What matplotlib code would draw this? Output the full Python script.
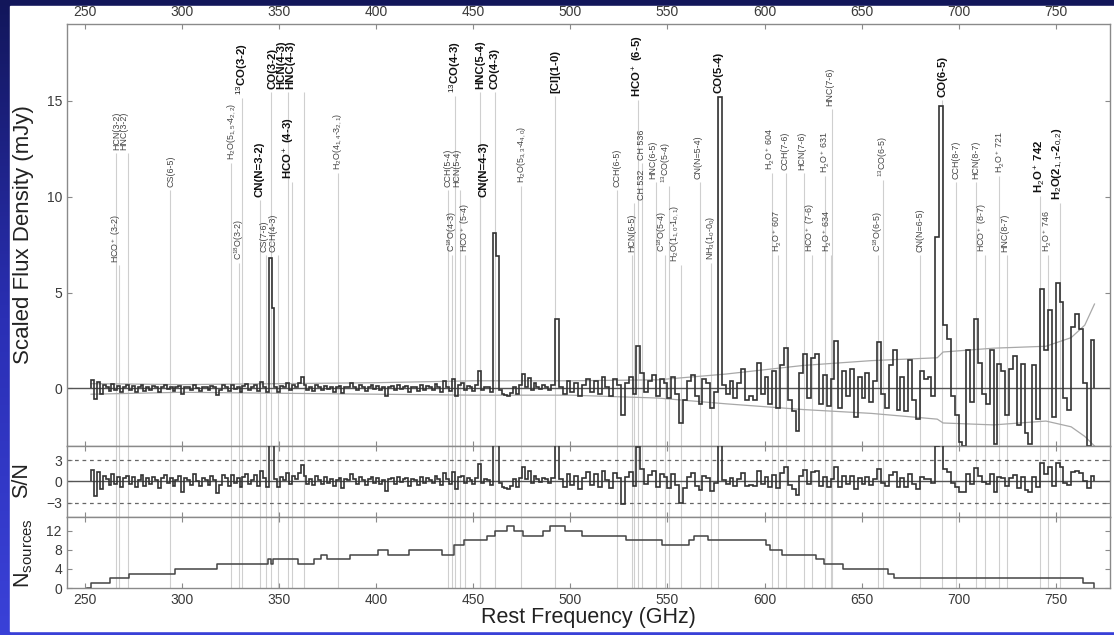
import numpy as np
import matplotlib
matplotlib.use("Agg")
import matplotlib.pyplot as plt
from matplotlib.colors import LinearSegmentedColormap
from matplotlib.patches import Rectangle

plt.rcParams['font.family'] = ['Liberation Sans', 'DejaVu Sans']
plt.rcParams['mathtext.fontset'] = 'custom'
plt.rcParams['mathtext.rm'] = 'Liberation Sans'
plt.rcParams['mathtext.it'] = 'Liberation Sans:italic'
plt.rcParams['mathtext.bf'] = 'Liberation Sans:bold'

# -----------------------------
# Stacked spectrum (mJy), two channel grids
# -----------------------------
# 253-490 GHz in 1.5 GHz channels
flux_lo = [
    0.45, -0.55, 0.35, -0.3, 0.2, 0.1, -0.15, 0.25, -0.1, 0.15,
    -0.2, 0.1, 0.2, -0.1, 0.15, -0.2, 0.05, 0.2, -0.15, 0.1,
    -0.1, 0.15, 0.05, -0.2, 0.1, 0.2, -0.05, 0.1, -0.15, 0.05,
    0.15, -0.3, 0.1, 0.05, -0.1, 0.2, 0.0, -0.15, 0.1, 0.05,
    -0.1, 0.15, 0.05, -0.35, -0.1, 0.2, 0.1, -0.15, 0.2, -0.05,
    0.1, -0.2, 0.15, 0.25, -0.1, 0.05, 0.2, -0.15, 0.35, 0.1,
    -0.2, 6.8, 4.2, 0.1, -0.2, 0.15, 0.05, 0.3, -0.1, 0.2,
    0.1, 0.3, 0.6, 0.2, -0.1, 0.1, -0.15, 0.2, 0.05, -0.1,
    0.15, -0.05, 0.1, -0.2, 0.05, 0.15, -0.25, 0.1, 0.05, 0.3,
    0.1, -0.1, 0.2, 0.05, -0.15, 0.1, 0.2, -0.05, 0.15, -0.1,
    0.05, -0.4, 0.1, 0.15, -0.1, 0.2, -0.05, 0.1, 0.15, -0.2,
    0.1, 0.05, -0.15, 0.2, -0.1, 0.15, 0.05, -0.1, 0.25, 0.1,
    -0.2, 0.4, 0.1, -0.15, 0.5, -0.4, 0.2, 0.3, -0.1, 0.15,
    0.05, -0.15, 0.2, 0.9, -0.1, 0.1, 0.05, -0.2, 8.1, 6.9,
    -0.1, -0.3, -0.35, -0.4, -0.25, 0.1, -0.3, 0.2, 0.75, 0.1,
    0.55, -0.1, 0.3, 0.1, -0.05, 0.2, 0.1, -0.1,
]
# 490-770 GHz in 2 GHz channels
flux_hi = [
    0.2, 3.6, 0.1, -0.3, 0.4, -0.2, 0.3, -0.4, 0.2, 0.5,
    -0.2, 0.4, -0.3, 0.6, 0.1, -0.4, 0.5, 0.2, -1.4, 0.3,
    0.6, -0.3, 2.2, 0.8, -0.2, 0.4, 0.7, -0.4, 0.5, 0.3,
    -0.5, 0.6, -0.3, -1.8, -0.6, 0.4, 0.7, -0.4, -0.8, 0.5,
    0.3, -1.0, -0.2, 15.2, 0.2, -0.3, 0.4, -0.5, 0.3, 1.0,
    -0.6, -0.4, -0.6, 1.35, -0.3, 0.6, -0.8, 0.9, -1.0, 1.2,
    2.1, -0.6, -1.2, -2.2, 0.8, 1.8, -0.5, 1.6, 1.8, -0.8,
    0.7, -0.9, 0.5, 2.5, -1.0, 0.9, -0.4, 1.0, -1.5, 0.6,
    -0.5, 0.8, -0.7, 0.4, 2.4, -0.3, -1.0, 1.2, 2.0, -1.1,
    0.6, -1.2, 1.5, -0.6, -1.6, 0.9, 0.5, 0.6, -0.4, 7.9,
    14.7, 3.3, 2.6, -0.4, -1.4, -2.8, -3.0, 2.0, -0.7, 3.6,
    1.35, -0.3, -0.8, 2.0, -2.9, 1.3, 0.9, -1.4, 1.0, 1.7,
    -1.9, 1.3, -2.3, -2.9, 1.2, -1.6, 5.2, 2.0, 4.1, -1.5,
    5.5, 4.5, -0.5, -1.1, 3.2, 3.9, 3.1, 0.3, -3.0, 2.55,
]

# 1-sigma noise envelope
noise_freq = [253, 300, 350, 400, 450, 500, 545, 580, 620, 655, 689, 692, 718, 745, 758, 765, 770]
noise_hi = [0.25, 0.2, 0.25, 0.3, 0.4, 0.4, 0.45, 0.75, 1.2, 1.45, 1.6, 1.9, 2.1, 2.2, 2.65, 3.3, 4.4]
noise_lo = [-0.3, -0.2, -0.25, -0.3, -0.35, -0.35, -0.5, -0.8, -1.1, -1.3, -1.6, -1.8, -1.9, -1.7, -2.0, -2.5, -3.0]

# number of sources contributing at each frequency
nsrc_freq = [251, 253, 263, 272.3, 296, 318, 344, 345.5, 347, 359.7, 368, 371.5, 374.6,
             386.4, 401, 406, 416.7, 434, 439.8, 445, 457, 461, 467.4, 471, 475.6,
             485.8, 489.5, 497, 506, 528.4, 547, 561, 563.7, 571, 600.7, 602.6, 609,
             626.7, 630.4, 640.6, 663.8, 666.6, 763.9, 769.5]
nsrc_val = [0, 1, 2, 3, 4, 5, 6, 5, 6, 5, 6, 7, 6,
            7, 8, 7, 8, 7, 9, 10, 11, 12, 13, 12, 11,
            12, 13, 12, 11, 10, 9, 10, 11, 10, 9, 8, 7,
            6, 5, 4, 3, 2, 1, 0]

# -----------------------------
# Line identifications
# -----------------------------
line_names = [
    "HCN(3-2)", "HNC(3-2)", "HCO$^+$ (3-2)", "CS(6-5)", "H$_2$O(5$_{1,5}$-4$_{2,2}$)",
    "C$^{18}$O(3-2)", "$^{13}$CO(3-2)", "CN(N=3-2)", "CS(7-6)", "CCH(4-3)",
    "CO(3-2)", "HCN(4-3)", "HNC(4-3)", "HCO$^+$ (4-3)", "H$_2$O(4$_{1,4}$-3$_{2,1}$)",
    "CCH(5-4)", "HCN(5-4)", "C$^{18}$O(4-3)", "HCO$^+$ (5-4)", "$^{13}$CO(4-3)",
    "HNC(5-4)", "CO(4-3)", "CN(N=4-3)", "H$_2$O(5$_{3,3}$-4$_{4,0}$)", "[CI](1-0)",
    "CCH(6-5)", "HCN(6-5)", "CH 532", "CH 536", "HCO$^+$ (6-5)",
    "HNC(6-5)", "$^{13}$CO(5-4)", "C$^{18}$O(5-4)", "H$_2$O(1$_{1,0}$-1$_{0,1}$)", "CN(N=5-4)",
    "NH$_3$(1$_0$-0$_0$)", "CO(5-4)", "H$_2$O$^+$ 604", "CCH(7-6)", "H$_2$O$^+$ 607",
    "HCN(7-6)", "HCO$^+$ (7-6)", "H$_2$O$^+$ 631", "H$_2$O$^+$ 634", "HNC(7-6)",
    "C$^{18}$O(6-5)", "$^{13}$CO(6-5)", "CN(N=6-5)", "CO(6-5)", "CCH(8-7)",
    "HCN(8-7)", "HCO$^+$ (8-7)", "H$_2$O$^+$ 721", "HNC(8-7)", "H$_2$O$^+$ 742",
    "H$_2$O$^+$ 746", "H$_2$O(2$_{1,1}$-2$_{0,2}$)",
]
line_freqs = [
    265.886, 271.981, 267.558, 293.912, 325.153,
    329.331, 330.588, 340.2, 342.883, 349.4,
    345.796, 354.505, 362.630, 356.734, 380.197,
    436.7, 443.116, 439.089, 445.903, 440.765,
    453.270, 461.041, 453.6, 474.689, 492.161,
    524.0, 531.716, 532.7, 536.8, 535.062,
    543.897, 550.926, 548.831, 556.936, 566.9,
    572.498, 576.268, 604.0, 611.3, 607.0,
    620.304, 624.208, 631.0, 634.0, 634.511,
    658.553, 661.067, 680.0, 691.473, 698.8,
    708.877, 713.341, 721.0, 724.8, 742.0,
    746.0, 752.033,
]
bright_lines = {"$^{13}$CO(3-2)", "CN(N=3-2)", "CO(3-2)", "HCN(4-3)", "HNC(4-3)",
                "HCO$^+$ (4-3)", "$^{13}$CO(4-3)", "HNC(5-4)", "CO(4-3)", "CN(N=4-3)",
                "[CI](1-0)", "HCO$^+$ (6-5)", "CO(5-4)", "CO(6-5)", "H$_2$O$^+$ 742",
                "H$_2$O(2$_{1,1}$-2$_{0,2}$)"}

# where each label sits: (x in GHz, y of label foot in mJy)
label_spots = [
    (266.3, 12.45), (269.9, 12.45), (265.8, 6.56), (294.0, 10.5), (325.6, 11.9),
    (329.3, 6.7), (331.0, 15.3), (340.0, 10.0), (342.3, 7.1), (346.6, 7.1),
    (346.4, 15.6), (351.0, 15.6), (355.4, 15.6), (355.0, 10.9), (380.2, 11.4),
    (436.7, 10.5), (441.5, 10.5), (438.9, 7.1), (445.7, 7.1), (440.6, 15.4),
    (453.5, 15.6), (461.1, 15.6), (455.4, 10.0), (474.7, 10.7), (492.2, 15.4),
    (524.0, 10.5), (531.7, 7.1), (536.4, 9.8), (536.6, 11.9), (535.1, 15.2),
    (542.6, 10.9), (549.5, 10.7), (547.2, 7.1), (553.6, 6.6), (565.8, 10.9),
    (572.0, 6.7), (576.3, 15.4), (602.9, 11.4), (610.6, 11.4), (606.5, 7.1),
    (619.3, 11.4), (623.4, 7.1), (631.2, 11.25), (632.2, 7.1), (633.8, 14.7),
    (658.5, 7.1), (661.0, 11.0), (680.0, 7.1), (691.5, 15.2), (698.8, 10.9),
    (708.6, 10.9), (712.2, 7.1), (721.5, 11.25), (724.0, 7.1), (742.0, 10.2),
    (746.0, 7.1), (751.1, 9.8),
]

# -----------------------------
# Derived arrays
# -----------------------------
edges = np.concatenate([253 + 1.5 * np.arange(len(flux_lo)),
                        490 + 2.0 * np.arange(len(flux_hi) + 1)])
flux = np.array(flux_lo + flux_hi)
centers = 0.5 * (edges[:-1] + edges[1:])
sigma = 0.5 * (np.interp(centers, noise_freq, noise_hi) - np.interp(centers, noise_freq, noise_lo))
snr = flux / sigma

XLIM = (240.5, 778)
LINE_GRAY = '#cfcfcf'
SPEC = '#333333'
SPINE = '#8a8a8a'
TICK_KW = dict(direction='in', length=3.5, width=0.8, color=SPINE,
               labelsize=10, labelcolor='#3a3a3a', top=True, right=True)

W, H = 1114, 635
fig = plt.figure(figsize=(W / 100, H / 100), dpi=100)

# slide background
bg = fig.add_axes([0, 0, 1, 1])
grad = np.linspace(0, 1, 256).reshape(-1, 1)
cmap = LinearSegmentedColormap.from_list('slide', ['#12165a', '#2a2fb4', '#3a41d8'])
bg.imshow(grad, aspect='auto', cmap=cmap, extent=[0, 1, 0, 1], origin='upper')
bg.add_patch(Rectangle((10 / W, 1 - 631 / H), 1, 625 / H, color='white', transform=bg.transAxes))
bg.set_xlim(0, 1)
bg.set_ylim(0, 1)
bg.axis('off')


def frac(left, top, right, bottom):
    return [left / W, 1 - bottom / H, (right - left) / W, (bottom - top) / H]


ax1 = fig.add_axes(frac(66.8, 24, 1110, 446))
ax2 = fig.add_axes(frac(66.8, 446, 1110, 516.7))
ax3 = fig.add_axes(frac(66.8, 516.7, 1110, 588))

for ax in (ax1, ax2, ax3):
    ax.set_xlim(*XLIM)
    ax.set_xticks(np.arange(250, 751, 50))
    ax.tick_params(**TICK_KW)
    for sp in ax.spines.values():
        sp.set_color(SPINE)
        sp.set_linewidth(1.0)

# -----------------------------
# Main panel: flux density
# -----------------------------
ax1.set_ylim(-3, 19)
ax1.set_yticks([0, 5, 10, 15])
ax1.tick_params(labeltop=True, labelbottom=False)
for name, f0, (fx, fy) in zip(line_names, line_freqs, label_spots):
    bold = name in bright_lines
    ax1.vlines(f0, -3, fy - 0.15, color=LINE_GRAY, lw=0.8, zorder=1)
    ax1.text(fx, fy, name, rotation=90, ha='center', va='bottom',
             fontsize=8.2 if bold else 6.4,
             fontweight='bold' if bold else 'normal',
             color='#111111' if bold else '#444444', zorder=3)
ax1.axhline(0, color='#555555', lw=1.0, zorder=2)
ax1.plot(noise_freq, noise_hi, color='#a8a8a8', lw=0.9, zorder=2)
ax1.plot(noise_freq, noise_lo, color='#a8a8a8', lw=0.9, zorder=2)
ax1.stairs(flux, edges, color=SPEC, lw=1.2, zorder=4)

# -----------------------------
# S/N panel
# -----------------------------
ax2.set_ylim(-5, 5)
ax2.set_yticks([-3, 0, 3])
ax2.tick_params(labelbottom=False)
for f0 in line_freqs:
    ax2.axvline(f0, color=LINE_GRAY, lw=0.8, zorder=1)
ax2.axhline(0, color='#555555', lw=1.0, zorder=2)
for lvl in (3, -3):
    ax2.axhline(lvl, color='#666666', lw=0.9, ls=(0, (3, 3)), zorder=2)
ax2.stairs(snr, edges, color=SPEC, lw=1.2, zorder=4)

# -----------------------------
# Number of sources panel
# -----------------------------
ax3.set_ylim(0, 15)
ax3.set_yticks([0, 4, 8, 12])
for f0 in line_freqs:
    ax3.axvline(f0, color=LINE_GRAY, lw=0.8, zorder=1)
ax3.step(nsrc_freq, nsrc_val, where='post', color='#444444', lw=1.1, zorder=4)

# axis titles
label_kw = dict(rotation=90, ha='center', va='center', color='#222222')
fig.text(23 / W, 1 - 235 / H, 'Scaled Flux Density (mJy)', fontsize=16, **label_kw)
fig.text(22 / W, 1 - 480 / H, 'S/N', fontsize=15.5, **label_kw)
fig.text(24 / W, 1 - 553 / H, 'N$_{\\rm sources}$', fontsize=15.5, **label_kw)
fig.text(588 / W, 1 - 618 / H, 'Rest Frequency (GHz)', ha='center', va='center',
         fontsize=15.5, color='#222222')

fig.savefig('out.png', dpi=100)
